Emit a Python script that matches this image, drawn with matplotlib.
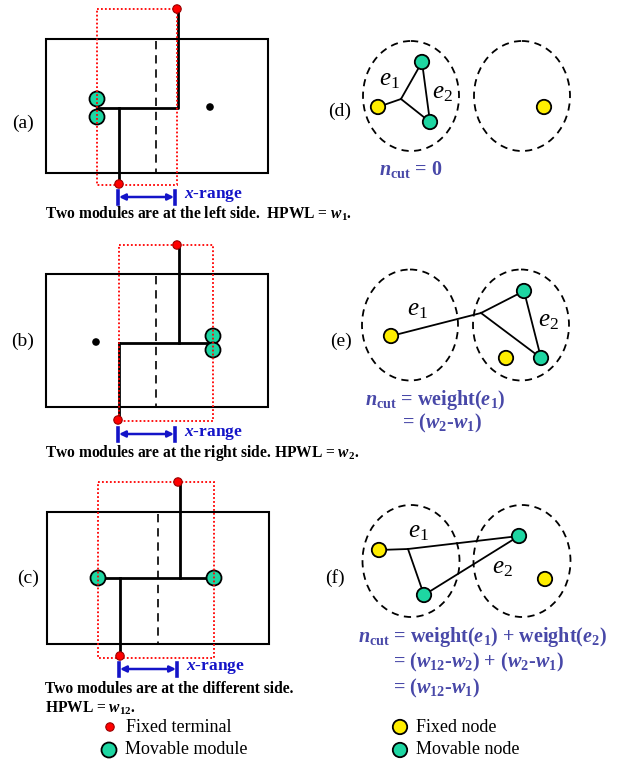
import matplotlib.pyplot as plt
from matplotlib.patches import Circle, Ellipse, Rectangle

plt.rcParams['font.family'] = 'Liberation Serif'
plt.rcParams['mathtext.fontset'] = 'custom'
plt.rcParams['mathtext.rm'] = 'Liberation Serif'
plt.rcParams['mathtext.it'] = 'Liberation Serif:italic'
plt.rcParams['mathtext.bf'] = 'Liberation Serif:bold'
plt.rcParams['mathtext.bfit'] = 'Liberation Serif:italic:bold'

GREEN = '#1ed6a2'
YELLOW = '#ffee00'
RED = '#ff0000'
BLUE = '#1414c8'
PURPLE = '#4848a8'

# ---- placement panels (a), (b), (c) ----
place_labels = ['(a)', '(b)', '(c)']
place_label_pos = [(23, 123), (23, 341), (28, 578)]
chips = [(46, 39, 268, 173), (46, 274, 268, 407), (47, 512, 269, 644)]
cut_x = [156, 156, 158]
bboxes = [(97, 9, 177, 185), (119, 245, 213, 421), (98, 482, 214, 658)]
terminals = [[(177, 9), (119, 184)], [(177, 245), (118, 420)], [(178, 482), (120, 656)]]
modules = [[(97, 99), (97, 117)], [(213, 336), (213, 350)], [(98, 578), (214, 578)]]
nets = [
    [[(97, 108), (178, 108), (178, 9)], [(119, 108), (119, 184)]],
    [[(119, 343), (207, 343)], [(179, 343), (179, 245)], [(119, 343), (119, 420)]],
    [[(98, 578), (214, 578)], [(180, 578), (180, 482)], [(120, 578), (120, 656)]],
]
other_dots = [(210, 107), (96, 342), None]
xranges = [(118, 175, 197), (118, 175, 434), (119, 177, 669)]
captions = [
    [(45, 214, r'Two modules are at the left side.  HPWL = $\mathbfit{w}_{\mathbf{1}}$.')],
    [(45, 453, r'Two modules are at the right side. HPWL = $\mathbfit{w}_{\mathbf{2}}$.')],
    [(45, 689, 'Two modules are at the different side.'),
     (45, 708, r'HPWL = $\mathbfit{w}_{\mathbf{12}}$.')],
]

# ---- netlist panels (d), (e), (f) ----
graph_labels = ['(d)', '(e)', '(f)']
graph_label_pos = [(340, 111), (341, 341), (335, 578)]
clusters = [[(411, 96), (522, 96)], [(410, 325), (521, 325)], [(411, 561), (522, 561)]]
cluster_size = [(96, 110), (96, 111), (97, 112)]
fixed_nodes = [[(378, 107), (544, 107)], [(391, 336), (506, 358)], [(379, 550), (545, 579)]]
movable_nodes = [[(422, 62), (430, 122)], [(524, 291), (541, 358)], [(519, 536), (424, 595)]]
junctions = [(401, 99), (481, 313), (408, 549)]
edges = [
    [((378, 107), (401, 99)), ((401, 99), (422, 62)), ((401, 99), (430, 122)), ((422, 62), (430, 122))],
    [((391, 336), (481, 313)), ((481, 313), (524, 291)), ((481, 313), (541, 358)), ((524, 291), (541, 358))],
    [((379, 550), (408, 549)), ((408, 549), (519, 536)), ((408, 549), (424, 595)), ((424, 595), (519, 536))],
]
edge_labels = [
    [(389, 80, '$e_1$'), (442, 93, '$e_2$')],
    [(417, 310, '$e_1$'), (548, 321, '$e_2$')],
    [(418, 532, '$e_1$'), (502, 568, '$e_2$')],
]
ncut_texts = [
    [(379, 170, r'$\mathbfit{n}_{\mathbf{cut}}$ = 0')],
    [(365, 400, r'$\mathbfit{n}_{\mathbf{cut}}$ = weight($\mathbfit{e}_{\mathbf{1}}$)'),
     (402, 423, r'= ($\mathbfit{w}_{\mathbf{2}}$-$\mathbfit{w}_{\mathbf{1}}$)')],
    [(358, 637, r'$\mathbfit{n}_{\mathbf{cut}}$ = weight($\mathbfit{e}_{\mathbf{1}}$) + weight($\mathbfit{e}_{\mathbf{2}}$)'),
     (393, 662, r'= ($\mathbfit{w}_{\mathbf{12}}$-$\mathbfit{w}_{\mathbf{2}}$) + ($\mathbfit{w}_{\mathbf{2}}$-$\mathbfit{w}_{\mathbf{1}}$)'),
     (393, 688, r'= ($\mathbfit{w}_{\mathbf{12}}$-$\mathbfit{w}_{\mathbf{1}}$)')],
]

legend_left = [('Fixed terminal', 'terminal', (110, 727)), ('Movable module', 'module', (109, 750))]
legend_right = [('Fixed node', 'fixed', (400, 727)), ('Movable node', 'movable', (400, 750))]

fig = plt.figure(figsize=(6.29, 7.62), dpi=100)
ax = fig.add_axes([0, 0, 1, 1])
ax.set_xlim(0, 629)
ax.set_ylim(762, 0)
ax.axis('off')


def dot(xy, kind):
    if kind == 'terminal':
        ax.add_patch(Circle(xy, 4.2, fc=RED, ec='#990000', lw=0.8, zorder=6))
    elif kind == 'module':
        ax.add_patch(Circle(xy, 7.5, fc=GREEN, ec='black', lw=1.3, zorder=4))
    elif kind == 'fixed':
        ax.add_patch(Circle(xy, 7.2, fc=YELLOW, ec='black', lw=1.3, zorder=4))
    elif kind == 'movable':
        ax.add_patch(Circle(xy, 7.2, fc=GREEN, ec='black', lw=1.3, zorder=4))


for i in range(3):
    x0, y0, x1, y1 = chips[i]
    ax.add_patch(Rectangle((x0, y0), x1 - x0, y1 - y0, fill=False, ec='black', lw=1.5, zorder=2))
    ax.plot([cut_x[i], cut_x[i]], [y0 + 2, y1], color='black', lw=1.2, ls=(0, (5, 3.5)), zorder=2)
    for seg in nets[i]:
        ax.plot([p[0] for p in seg], [p[1] for p in seg], color='black', lw=2.0,
                solid_capstyle='projecting', zorder=3)
    for m in modules[i]:
        dot(m, 'module')
    bx0, by0, bx1, by1 = bboxes[i]
    ax.add_patch(Rectangle((bx0, by0), bx1 - bx0, by1 - by0, fill=False, ec=RED, lw=1.3,
                           ls=(0, (1, 1.2)), zorder=5))
    for t in terminals[i]:
        dot(t, 'terminal')
    if other_dots[i] is not None:
        ax.add_patch(Circle(other_dots[i], 3.8, fc='black', ec='none', zorder=4))
    xa, xb, ya = xranges[i]
    ax.plot([xa, xa], [ya - 6.5, ya + 6.5], color=BLUE, lw=2.6, zorder=3)
    ax.plot([xb, xb], [ya - 6.5, ya + 6.5], color=BLUE, lw=2.6, zorder=3)
    ax.annotate('', xy=(xb - 1, ya), xytext=(xa + 1, ya),
                arrowprops=dict(arrowstyle='<|-|>', color=BLUE, lw=1.8,
                                shrinkA=0, shrinkB=0, mutation_scale=9))
    ax.text(xb + 9, ya - 1, r'$\mathbfit{x}$-range', color=BLUE, fontsize=12.5,
            fontweight='bold', va='center', ha='left')
    for cx, cy, s in captions[i]:
        ax.text(cx, cy, s, fontsize=11.2, fontweight='bold', va='center', ha='left')
    ax.text(*place_label_pos[i], place_labels[i], fontsize=14, va='center', ha='center')

for i in range(3):
    w, h = cluster_size[i]
    for c in clusters[i]:
        ax.add_patch(Ellipse(c, w, h, fill=False, ec='black', lw=1.3, ls=(0, (4, 3)), zorder=2))
    for a, b in edges[i]:
        ax.plot([a[0], b[0]], [a[1], b[1]], color='black', lw=1.3, zorder=3)
    for n in fixed_nodes[i]:
        dot(n, 'fixed')
    for n in movable_nodes[i]:
        dot(n, 'movable')
    for lx, ly, s in edge_labels[i]:
        ax.text(lx, ly, s, fontsize=18, va='center', ha='center')
    for tx, ty, s in ncut_texts[i]:
        ax.text(tx, ty, s, color=PURPLE, fontsize=14.5, fontweight='bold', va='center', ha='left')
    ax.text(*graph_label_pos[i], graph_labels[i], fontsize=14, va='center', ha='center')

for label, kind, xy in legend_left + legend_right:
    dot(xy, kind)
    ax.text(xy[0] + 16, xy[1], label, fontsize=13, va='center', ha='left')

fig.savefig('out.png', dpi=100)
